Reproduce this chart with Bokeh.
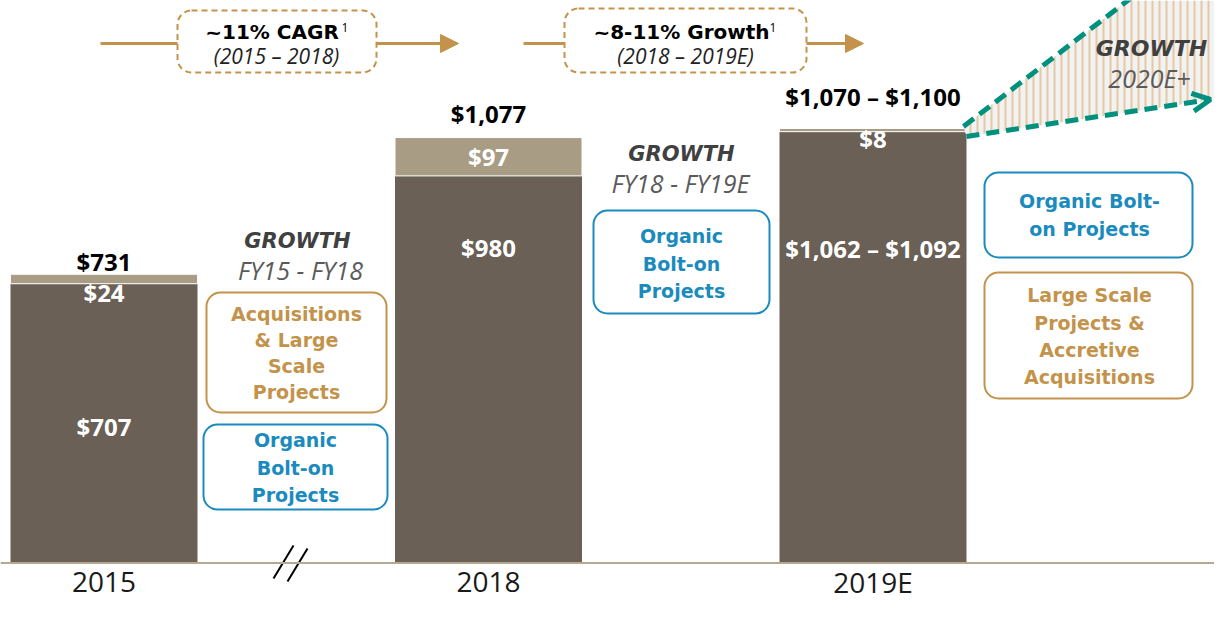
from bokeh.plotting import figure
from bokeh.models import Range1d, BoxAnnotation, Arrow, NormalHead, OpenHead, Span, ColumnDataSource
from bokeh.core.properties import value
from bokeh.embed import file_html
from bokeh.resources import INLINE

# ---------------- data ----------------
years = ["2015", "2018", "2019E"]
base_values = [707, 980, 1092]
increment_values = [24, 97, 8]
total_labels = ["$731", "$1,077", "$1,070 \u2013 $1,100"]
increment_labels = ["$24", "$97", "$8"]
base_labels = ["$707", "$980", "$1,062 \u2013 $1,092"]

# ---------------- layout helpers (reference-pixel -> data) ----------------
K = 0.395          # px per $ unit
Y0 = 562.5         # baseline in page pixels
PITCH = 192.25     # px per slot
X_FIRST = 103.5


def X(px):
    return (px - X_FIRST) / PITCH


def Y(py):
    return (Y0 - py) / K


slots = [0, 2, 4]
BAR_W = 187 / PITCH

DARK = "#6a6056"
LIGHT = "#a89c85"
GOLD = "#c3934c"
BLUE = "#1b8bbd"
TEAL = "#00907e"
HATCH = "#e4c9a2"
TITLE = "#404040"
SUB = "#5a5a5a"

p = figure(width=1214, height=603, output_backend="svg", toolbar_location=None,
           x_range=Range1d(X(0), X(1214)), y_range=Range1d(Y(603), Y(0)),
           min_border=0, outline_line_color=None, background_fill_color="white")
p.axis.visible = False
p.grid.visible = False

# ---------------- bars ----------------
tops = [b + i for b, i in zip(base_values, increment_values)]
src = ColumnDataSource(dict(x=slots, base=base_values, top=tops, year=years))
p.vbar(x="x", bottom=0, top="base", width=BAR_W, source=src, fill_color=DARK, line_color=None)
p.vbar(x="x", bottom="base", top="top", width=BAR_W, source=src, fill_color=LIGHT,
       line_color="white", line_width=1)

# baseline
p.add_layout(Span(location=0, dimension="width", line_color="#b3a890", line_width=2))

# break mark
p.segment(x0=[X(273), X(287)], y0=[Y(578), Y(581)], x1=[X(293), X(307)], y1=[Y(545), Y(548)],
          line_color="black", line_width=2)


def label(txt, xp, yp, size, font="DejaVu Sans", style="bold", color="black", align="center"):
    # yp is the desired visual baseline (reference px); compensate renderer offset
    p.text(x=[X(xp)], y=[Y(yp - 0.4 * size)], text=[txt], text_font=value(font),
           text_font_style=style, text_font_size=f"{size}px", text_color=color,
           text_align=align, text_baseline="alphabetic")


# value labels (baseline pixel positions)
total_label_y = [270.5, 123, 106]
inc_label_y = [302, 166, 148]
base_label_y = [435.5, 256.5, 258]
bar_px = [X_FIRST + s * PITCH for s in slots]
for i in range(3):
    label(total_labels[i], bar_px[i], total_label_y[i], 24, font="Open Sans", color="black")
    label(increment_labels[i], bar_px[i], inc_label_y[i], 24, font="Open Sans", color="white")
    label(base_labels[i], bar_px[i], base_label_y[i], 24, font="Open Sans", color="white")

# year labels
for i in range(3):
    label(years[i], bar_px[i], 593, 28, font="Open Sans", style="normal", color="#1a1a1a")


# ---------------- boxes ----------------
def box(l, r, t, b, color, dash="solid"):
    p.add_layout(BoxAnnotation(left=X(l), right=X(r), top=Y(t), bottom=Y(b), fill_color="white",
                               fill_alpha=1, line_color=color, line_alpha=1, line_width=2,
                               line_dash=dash, border_radius=14, level="underlay"))


def lines(txts, xp, first, step, color, size=19):
    for k, t in enumerate(txts):
        label(t, xp, first + k * step, size, color=color)


box(206, 386, 292, 412, GOLD)
lines(["Acquisitions", "& Large", "Scale", "Projects"], 296, 321.5, 26, GOLD)
box(203, 387, 424, 509, BLUE)
lines(["Organic", "Bolt-on", "Projects"], 295, 447.5, 27.5, BLUE)
box(593, 769, 210, 313, BLUE)
lines(["Organic", "Bolt-on", "Projects"], 681, 243.5, 27.5, BLUE)
box(984, 1192, 172, 257, BLUE)
lines(["Organic Bolt-", "on Projects"], 1089, 208.5, 28, BLUE)
box(984, 1192, 272, 398, GOLD)
lines(["Large Scale", "Projects &", "Accretive", "Acquisitions"], 1089, 302.5, 27.3, GOLD)

# growth headers
label("GROWTH", 297, 248.5, 21, style="bold italic", color=TITLE)
label("FY15 - FY18", 300, 279, 25, font="Open Sans", style="italic", color=SUB)
label("GROWTH", 681, 162, 21, style="bold italic", color=TITLE)
label("FY18 - FY19E", 680, 192, 25, font="Open Sans", style="italic", color=SUB)

# ---------------- top CAGR arrows ----------------
p.segment(x0=[X(100), X(523)], y0=[Y(43), Y(43)], x1=[X(177), X(564)], y1=[Y(43), Y(43)],
          line_color=GOLD, line_width=3)
for xs, xe in [(376, 458), (806, 863)]:
    p.add_layout(Arrow(end=NormalHead(size=18, fill_color=GOLD, line_color=GOLD),
                       x_start=X(xs), y_start=Y(43), x_end=X(xe), y_end=Y(43),
                       line_color=GOLD, line_width=3))
box(177, 376, 10, 72, GOLD, dash="6 4")
box(564, 806, 8, 72, GOLD, dash="6 4")
label("~11% CAGR", 271.5, 39, 20, color="black")
label("1", 341, 32, 12, font="Open Sans", style="normal", color="black", align="left")
label("(2015 \u2013 2018)", 276, 64, 21, font="Open Sans", style="italic", color="#222222")
label("~8-11% Growth", 681, 39, 20, color="black")
label("1", 769, 32, 12, font="Open Sans", style="normal", color="black", align="left")
label("(2018 \u2013 2019E)", 685, 64, 21, font="Open Sans", style="italic", color="#222222")

# ---------------- growth wedge ----------------
p.patch(x=[X(963), X(1127), X(1217), X(1227), X(966)], y=[Y(126), Y(0), Y(0), Y(97), Y(136)],
        fill_color="#f2f2f2", hatch_pattern="|", hatch_color=HATCH, hatch_weight=2,
        hatch_scale=7, line_color=None)
p.line(x=[X(963), X(1135)], y=[Y(126), Y(-6)], line_color=TEAL, line_width=5, line_dash="13 7")
p.add_layout(Arrow(end=OpenHead(size=18, line_color=TEAL, line_width=5),
                   x_start=X(966), y_start=Y(136), x_end=X(1210), y_end=Y(99),
                   line_color=TEAL, line_width=5, line_dash="13 7"))
label("GROWTH", 1151, 57, 22, style="bold italic", color=TITLE)
label("2020E+", 1149, 87, 25, font="Open Sans", style="italic", color=SUB)

open("out.html", "w").write(file_html(p, INLINE))
